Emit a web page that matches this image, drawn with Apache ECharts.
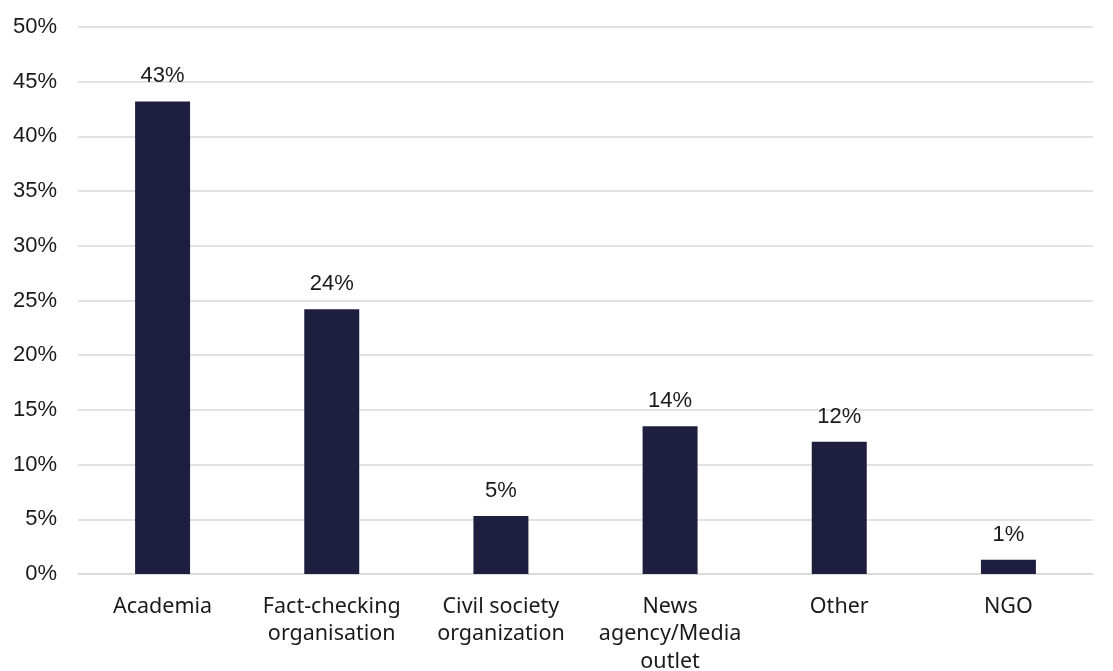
<!DOCTYPE html>
<html>
<head>
<meta charset="utf-8">
<script src="https://cdn.jsdelivr.net/npm/echarts@6/dist/echarts.min.js"></script>
<style>
  html, body { margin: 0; padding: 0; background: #ffffff; }
  #chart { width: 1113px; height: 671px; }
</style>
</head>
<body>
<div id="chart"></div>
<script>
// Share of respondents by type of organisation
const categories = [
  'Academia',
  'Fact-checking\norganisation',
  'Civil society\norganization',
  'News\nagency/Media\noutlet',
  'Other',
  'NGO'
];
const shares = [43.2, 24.2, 5.3, 13.5, 12.1, 1.3];
const yTicks = { min: 0, max: 50, interval: 5 };

const chart = echarts.init(document.getElementById('chart'));
const numFont = '"Liberation Sans", Arial, sans-serif';
const catFont = '"Noto Sans", "Open Sans", sans-serif';

chart.setOption({
  animation: false,
  grid: {
    left: 78, right: 20, top: 27, bottom: 97,
    containLabel: false,
    outerBoundsMode: 'none'
  },
  xAxis: {
    type: 'category',
    data: categories,
    axisLine: { show: true, lineStyle: { color: '#d9d9d9', width: 1.5 } },
    axisTick: { show: false },
    axisLabel: {
      color: '#1a1a1a',
      fontFamily: catFont,
      fontSize: 21.5,
      lineHeight: 27.5,
      margin: 19,
      interval: 0
    }
  },
  yAxis: {
    type: 'value',
    min: yTicks.min,
    max: yTicks.max,
    interval: yTicks.interval,
    axisLine: { show: false },
    axisTick: { show: false },
    splitLine: { lineStyle: { color: '#d9d9d9', width: 1.5 } },
    axisLabel: {
      color: '#1a1a1a',
      fontFamily: numFont,
      fontSize: 22,
      margin: 21,
      formatter: v => v + '%'
    }
  },
  series: [{
    type: 'bar',
    data: shares,
    barWidth: '32.5%',
    itemStyle: { color: '#1e1e3e' },
    label: {
      show: true,
      position: 'top',
      distance: 14,
      color: '#1a1a1a',
      fontFamily: numFont,
      fontSize: 22,
      formatter: p => Math.round(p.value) + '%'
    }
  }]
});
</script>
</body>
</html>
